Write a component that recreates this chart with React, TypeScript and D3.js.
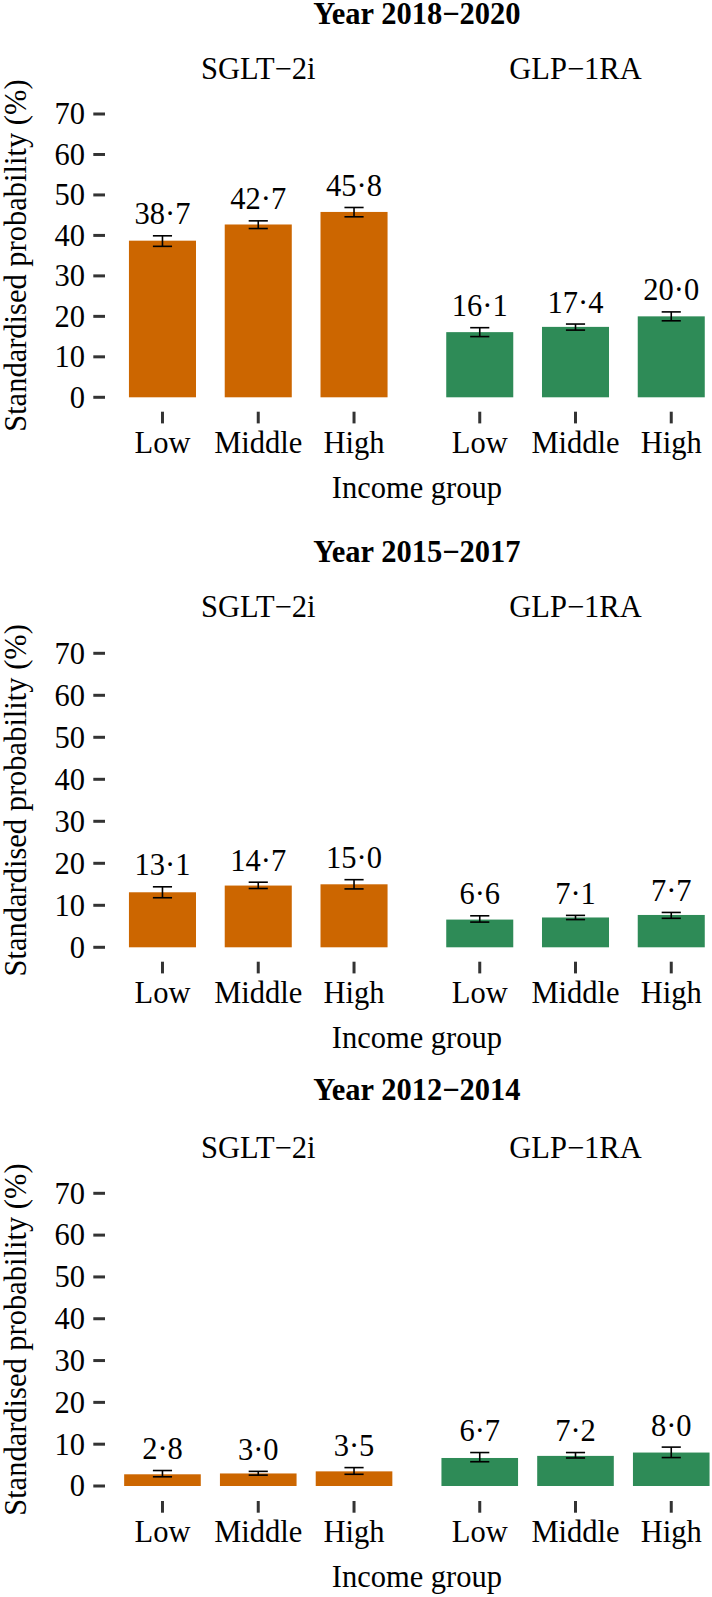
import React from "react";
import * as d3 from "d3";

// ---------- data ----------
const incomeGroups = ["Low", "Middle", "High"];
const drugClasses = ["SGLT\u22122i", "GLP\u22121RA"];
const periodTitles = ["Year 2018\u22122020", "Year 2015\u22122017", "Year 2012\u22122014"];
const yTicks = [0, 10, 20, 30, 40, 50, 60, 70];

// 2018-2020
const sglt2018 = [38.7, 42.7, 45.8];
const sglt2018Lower = [37.3, 41.7, 44.6];
const sglt2018Upper = [39.9, 43.6, 46.9];
const glp2018 = [16.1, 17.4, 20.0];
const glp2018Lower = [15.0, 16.6, 18.9];
const glp2018Upper = [17.2, 18.1, 21.1];

// 2015-2017
const sglt2015 = [13.1, 14.7, 15.0];
const sglt2015Lower = [11.8, 14.0, 13.9];
const sglt2015Upper = [14.4, 15.5, 16.1];
const glp2015 = [6.6, 7.1, 7.7];
const glp2015Lower = [6.0, 6.6, 6.9];
const glp2015Upper = [7.5, 7.6, 8.3];

// 2012-2014
const sglt2012 = [2.8, 3.0, 3.5];
const sglt2012Lower = [2.2, 2.6, 2.8];
const sglt2012Upper = [3.7, 3.5, 4.4];
const glp2012 = [6.7, 7.2, 8.0];
const glp2012Lower = [5.8, 6.7, 6.8];
const glp2012Upper = [8.0, 8.0, 9.3];

const drugColors = ["#CC6600", "#2E8B57"];

type Series = { values: number[]; lower: number[]; upper: number[] };
const periodData: Series[][] = [
  [
    { values: sglt2018, lower: sglt2018Lower, upper: sglt2018Upper },
    { values: glp2018, lower: glp2018Lower, upper: glp2018Upper },
  ],
  [
    { values: sglt2015, lower: sglt2015Lower, upper: sglt2015Upper },
    { values: glp2015, lower: glp2015Lower, upper: glp2015Upper },
  ],
  [
    { values: sglt2012, lower: sglt2012Lower, upper: sglt2012Upper },
    { values: glp2012, lower: glp2012Lower, upper: glp2012Upper },
  ],
];

// ---------- layout ----------
const W = 712;
const H = 1597;
const FONT = "Liberation Serif, Times New Roman, serif";
const FS = 30.5;
const panelRanges: [number, number][] = [
  [105, 411.5],
  [422.3, 728.7],
];
const rows = [
  { titleY: 23.8, stripY: 79, y0: 397.3, y70: 114, tickTop: 411.7, labelY: 452.7, xTitleY: 498.3, barFrac: 0.7 },
  { titleY: 561.7, stripY: 617.3, y0: 947.3, y70: 653.3, tickTop: 961.7, labelY: 1002.7, xTitleY: 1048.3, barFrac: 0.7 },
  { titleY: 1100, stripY: 1158.3, y0: 1486, y70: 1193.3, tickTop: 1501, labelY: 1541.7, xTitleY: 1586.7, barFrac: 0.8 },
];

const fmt = (v: number) => v.toFixed(1).replace(".", "\u00B7");

function Row({ r, idx }: { r: (typeof rows)[number]; idx: number }) {
  const y = d3.scaleLinear().domain([0, 70]).range([r.y0, r.y70]);
  const plotCenter = (panelRanges[0][0] + panelRanges[1][1]) / 2;
  return (
    <g>
      <text x={plotCenter} y={r.titleY} textAnchor="middle" fontWeight="bold" fontSize={FS} fontFamily={FONT}>
        {periodTitles[idx]}
      </text>
      {/* y axis title */}
      <text
        transform={`translate(25.5,${y(35)}) rotate(-90)`}
        textAnchor="middle"
        fontSize={FS}
        fontFamily={FONT}
      >
        Standardised probability (%)
      </text>
      {/* y ticks */}
      {yTicks.map((t) => (
        <g key={t}>
          <line x1={93.3} x2={105} y1={y(t)} y2={y(t)} stroke="#333333" strokeWidth={3} />
          <text x={85} y={y(t)} dy="0.34em" textAnchor="end" fontSize={FS} fontFamily={FONT}>
            {t}
          </text>
        </g>
      ))}
      {drugClasses.map((dc, p) => {
        const x = d3.scalePoint<string>().domain(incomeGroups).range(panelRanges[p]).padding(0.6);
        const step = x.step();
        const bw = step * r.barFrac;
        const cw = step * 0.2;
        const s = periodData[idx][p];
        const center = (panelRanges[p][0] + panelRanges[p][1]) / 2;
        return (
          <g key={dc}>
            <text x={center} y={r.stripY} textAnchor="middle" fontSize={FS} fontFamily={FONT}>
              {dc}
            </text>
            {incomeGroups.map((g, i) => {
              const cx = x(g)!;
              const v = s.values[i];
              const lo = s.lower[i];
              const hi = s.upper[i];
              return (
                <g key={g}>
                  <rect x={cx - bw / 2} y={y(v)} width={bw} height={y(0) - y(v)} fill={drugColors[p]} />
                  <line x1={cx} x2={cx} y1={y(lo)} y2={y(hi)} stroke="#000" strokeWidth={1.6} />
                  <line x1={cx - cw / 2} x2={cx + cw / 2} y1={y(lo)} y2={y(lo)} stroke="#000" strokeWidth={1.6} />
                  <line x1={cx - cw / 2} x2={cx + cw / 2} y1={y(hi)} y2={y(hi)} stroke="#000" strokeWidth={1.6} />
                  <text x={cx} y={y(hi) - 11.5} textAnchor="middle" fontSize={FS} fontFamily={FONT}>
                    {fmt(v)}
                  </text>
                  <line x1={cx} x2={cx} y1={r.tickTop} y2={r.tickTop + 11.7} stroke="#333333" strokeWidth={3} />
                  <text x={cx} y={r.labelY} textAnchor="middle" fontSize={FS} fontFamily={FONT}>
                    {g}
                  </text>
                </g>
              );
            })}
          </g>
        );
      })}
      <text x={plotCenter} y={r.xTitleY} textAnchor="middle" fontSize={FS} fontFamily={FONT}>
        Income group
      </text>
    </g>
  );
}

export default function App() {
  return (
    <svg
      width={W}
      height={H}
      viewBox={`0 0 ${W} ${H}`}
      style={{ position: "absolute", left: 0, top: 0, background: "#fff" }}
    >
      <rect x={0} y={0} width={W} height={H} fill="#fff" />
      {rows.map((r, i) => (
        <Row key={i} r={r} idx={i} />
      ))}
    </svg>
  );
}
